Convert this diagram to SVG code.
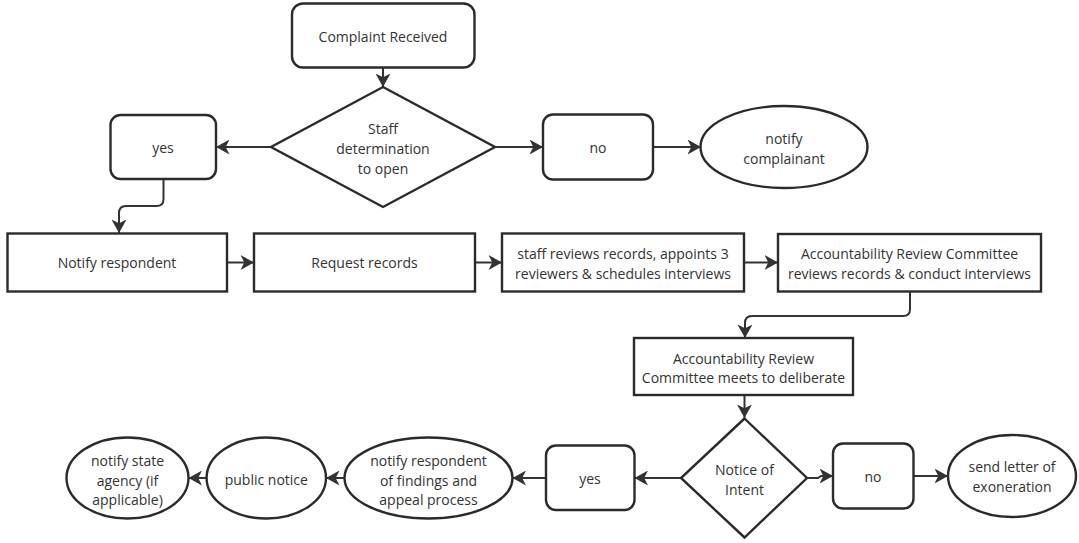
<svg xmlns="http://www.w3.org/2000/svg" width="1079" height="543" viewBox="0 0 1079 543">
<style>
.shape{fill:#ffffff;stroke:#2b2b2b;stroke-width:2.4}
.conn{fill:none;stroke:#333333;stroke-width:2}
text{font-family:"Open Sans","Noto Sans","Liberation Sans",sans-serif;font-size:14px;fill:#333333;text-anchor:middle;dominant-baseline:central}
</style>
<defs>
<marker id="arr" markerUnits="userSpaceOnUse" markerWidth="15" markerHeight="15" viewBox="0 0 15 15" refX="13.5" refY="7.5" orient="auto">
<path d="M0,0 L13.5,7.5 L0,15 L3.8,7.5 Z" fill="#333333"/>
</marker>
</defs>
<rect width="1079" height="543" fill="#ffffff"/>
<g id="connectors">
<path class="conn" marker-end="url(#arr)" d="M383,68 V87"/>
<path class="conn" marker-end="url(#arr)" d="M271,147 H216"/>
<path class="conn" marker-end="url(#arr)" d="M495,147 H543"/>
<path class="conn" marker-end="url(#arr)" d="M653,147 H701"/>
<path class="conn" marker-end="url(#arr)" d="M163.5,179 V199 Q163.5,206 156.5,206 H126 Q119,206 119,213 V233"/>
<path class="conn" marker-end="url(#arr)" d="M227,262.5 H254"/>
<path class="conn" marker-end="url(#arr)" d="M475,262.5 H502"/>
<path class="conn" marker-end="url(#arr)" d="M744,262.5 H778"/>
<path class="conn" marker-end="url(#arr)" d="M910,292 V309 Q910,316 903,316 H752 Q745,316 745,323 V338"/>
<path class="conn" marker-end="url(#arr)" d="M744.5,395 V418"/>
<path class="conn" marker-end="url(#arr)" d="M681,478 H634.5"/>
<path class="conn" marker-end="url(#arr)" d="M546,478 H512.5"/>
<path class="conn" marker-end="url(#arr)" d="M345,478 H326"/>
<path class="conn" marker-end="url(#arr)" d="M206.5,478 H188.5"/>
<path class="conn" marker-end="url(#arr)" d="M807,478 H818 L821,476 H833"/>
<path class="conn" marker-end="url(#arr)" d="M913,476 H948"/>
</g>
<g id="complaint-received">
<rect class="shape" x="292" y="3.5" width="182.5" height="64" rx="11"/>
<text x="383" y="36">Complaint Received</text>
</g>
<g id="staff-determination">
<polygon class="shape" points="383,87 495,147 383,207 271,147"/>
<text x="383" y="128">Staff</text>
<text x="383" y="148">determination</text>
<text x="383" y="168">to open</text>
</g>
<g id="yes-1">
<rect class="shape" x="110.5" y="115" width="105.5" height="64" rx="10"/>
<text x="163" y="147">yes</text>
</g>
<g id="no-1">
<rect class="shape" x="543" y="114.5" width="110" height="65" rx="10"/>
<text x="598" y="147">no</text>
</g>
<g id="notify-complainant">
<ellipse class="shape" cx="784" cy="147" rx="83.5" ry="41"/>
<text x="784" y="138">notify</text>
<text x="784" y="158">complainant</text>
</g>
<g id="notify-respondent">
<rect class="shape" x="7.5" y="233.5" width="219.5" height="58"/>
<text x="117" y="262.5">Notify respondent</text>
</g>
<g id="request-records">
<rect class="shape" x="254" y="233.5" width="221" height="58"/>
<text x="364.5" y="262.5">Request records</text>
</g>
<g id="staff-reviews">
<rect class="shape" x="502" y="233.5" width="242" height="58"/>
<text x="623" y="253">staff reviews records, appoints 3</text>
<text x="623" y="273">reviewers &amp; schedules interviews</text>
</g>
<g id="arc-reviews">
<rect class="shape" x="778" y="234" width="263" height="57.5"/>
<text x="909.5" y="253">Accountability Review Committee</text>
<text x="909.5" y="273">reviews records &amp; conduct interviews</text>
</g>
<g id="arc-deliberate">
<rect class="shape" x="634" y="338" width="219" height="57"/>
<text x="743.5" y="358">Accountability Review</text>
<text x="743.5" y="377">Committee meets to deliberate</text>
</g>
<g id="notice-of-intent">
<polygon class="shape" points="744.5,418.5 807,478 744.5,537.5 681,478"/>
<text x="744.5" y="469">Notice of</text>
<text x="744.5" y="489">Intent</text>
</g>
<g id="yes-2">
<rect class="shape" x="546" y="445.5" width="88.5" height="64.5" rx="10"/>
<text x="590" y="478">yes</text>
</g>
<g id="no-2">
<rect class="shape" x="833" y="443.5" width="80.5" height="65" rx="10"/>
<text x="873" y="476.5">no</text>
</g>
<g id="send-letter">
<ellipse class="shape" cx="1012" cy="476" rx="64" ry="41"/>
<text x="1012" y="466.5">send letter of</text>
<text x="1012" y="486.5">exoneration</text>
</g>
<g id="notify-respondent-findings">
<ellipse class="shape" cx="428.5" cy="478" rx="84" ry="40.5"/>
<text x="428.5" y="460">notify respondent</text>
<text x="428.5" y="480">of findings and</text>
<text x="428.5" y="499.5">appeal process</text>
</g>
<g id="public-notice">
<ellipse class="shape" cx="266.3" cy="478" rx="59.7" ry="40.5"/>
<text x="266.3" y="479">public notice</text>
</g>
<g id="notify-state-agency">
<ellipse class="shape" cx="127.5" cy="478" rx="61" ry="40.5"/>
<text x="127.5" y="460">notify state</text>
<text x="127.5" y="480">agency (if</text>
<text x="127.5" y="499.5">applicable)</text>
</g>
</svg>
